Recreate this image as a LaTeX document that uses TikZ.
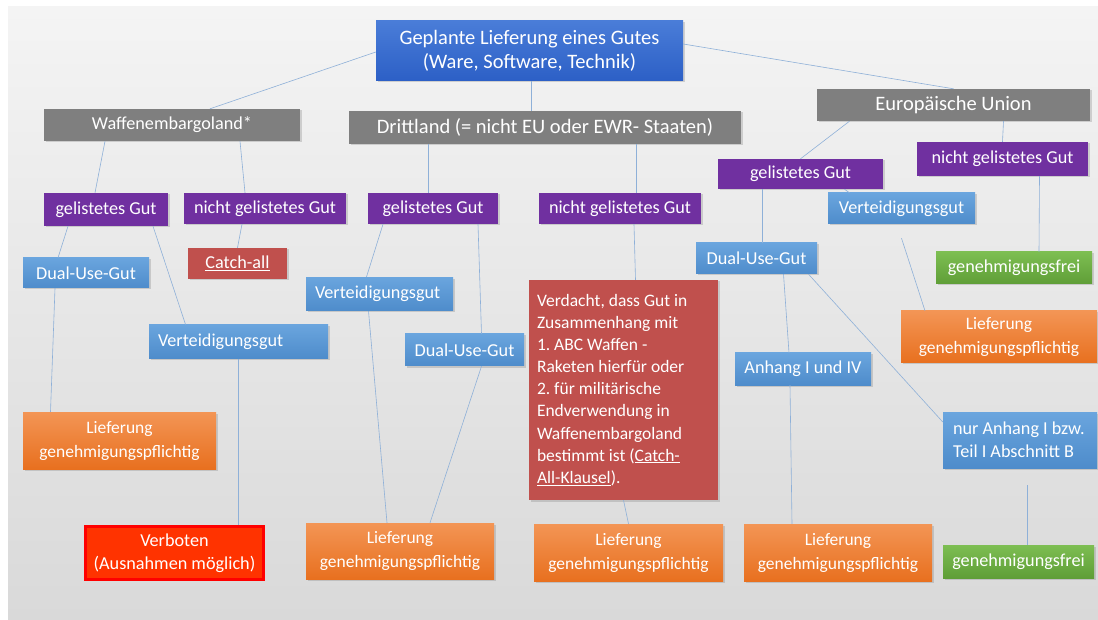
\documentclass[tikz,border=0pt]{standalone}
\usepackage{fontspec}
\setmainfont{Carlito}
\usetikzlibrary{shadows}

\definecolor{bggrey}{HTML}{F4F4F4}
\definecolor{bgdark}{HTML}{D9D9D9}
\definecolor{headtop}{HTML}{4A7DD8}
\definecolor{headbot}{HTML}{2C5FC6}
\definecolor{landgrey}{HTML}{7F7F7F}
\definecolor{gutpurple}{HTML}{7030A0}
\definecolor{arttop}{HTML}{6AA5DE}
\definecolor{artbot}{HTML}{4E8CCB}
\definecolor{liefertop}{HTML}{F39555}
\definecolor{lieferbot}{HTML}{E8701F}
\definecolor{freitop}{HTML}{7DBE52}
\definecolor{freibot}{HTML}{5F9E37}
\definecolor{catchred}{HTML}{C0504D}
\definecolor{verbotred}{HTML}{FF3300}
\definecolor{linkblue}{HTML}{8EB0D8}

\begin{document}
\frenchspacing
\begin{tikzpicture}[x=1pt,y=-1pt,
    box/.style={rectangle, inner sep=4pt, text=white,
      font=\fontsize{18.2}{23}\selectfont,
      drop shadow={shadow xshift=1.5pt, shadow yshift=-1.5pt, opacity=0.3}},
    bigfont/.style={font=\fontsize{20.5}{24}\selectfont},
    headbox/.style={box, bigfont, top color=headtop, bottom color=headbot},
    landbox/.style={box, fill=landgrey},
    gutbox/.style={box, fill=gutpurple},
    artbox/.style={box, top color=arttop, bottom color=artbot},
    lieferbox/.style={box, top color=liefertop, bottom color=lieferbot, align=center,
      font=\fontsize{17.5}{24}\selectfont},
    freibox/.style={box, top color=freitop, bottom color=freibot},
    catchbox/.style={box, fill=catchred},
    verbotbox/.style={box, fill=verbotred, draw=red, line width=3pt, align=center},
    link/.style={draw=linkblue, line width=0.6pt}]

  % Hintergrund
  \useasboundingbox (0,0) rectangle (1098,620);
  \fill[white] (0,0) rectangle (1098,620);
  \shade[top color=bggrey, middle color=bggrey!90!bgdark, bottom color=bgdark] (8,7) rectangle (1098,620);

  % Wurzel und Laender
  \node[headbox, minimum width=307pt, minimum height=60pt, align=center] (ware) at (529.5,51) {Geplante Lieferung eines Gutes\\(Ware, Software, Technik)};
  \node[landbox, minimum width=256pt, minimum height=32pt] (waffen) at (172,125) {Waffenembargoland*};
  \node[landbox, bigfont, minimum width=392pt, minimum height=33pt] (dritt) at (545,127.5) {Drittland (= nicht EU oder EWR- Staaten)};
  \node[landbox, bigfont, minimum width=273pt, minimum height=32pt] (eu) at (953.5,105) {Europäische Union};

  % Waffenembargoland
  \node[gutbox, minimum width=124pt, minimum height=33pt] (gelL) at (106,209.5) {gelistetes Gut};
  \node[gutbox, minimum width=162pt, minimum height=31pt] (ngL) at (265,208.5) {nicht gelistetes Gut};
  \node[catchbox, minimum width=99pt, minimum height=31pt] (catch) at (237.5,263.5) {\underline{Catch-all}};
  \node[artbox, minimum width=126pt, minimum height=30pt] (dualL) at (86,273) {Dual-Use-Gut};
  \node[artbox, minimum width=179pt, minimum height=31pt, inner sep=9pt, text width=161pt, align=flush left] (vertL) at (238.5,341.5) {Verteidigungsgut};
  \node[lieferbox, minimum width=193pt, minimum height=57pt] (liefL) at (119.5,440.5) {Lieferung\\genehmigungspflichtig};
  \node[verbotbox, minimum width=178pt, minimum height=53pt] (verboten) at (174.5,553) {Verboten\\(Ausnahmen möglich)};

  % Drittland
  \node[gutbox, minimum width=130pt, minimum height=31pt] (gelM) at (433,208.5) {gelistetes Gut};
  \node[gutbox, minimum width=162pt, minimum height=31pt] (ngM) at (620,208.5) {nicht gelistetes Gut};
  \node[artbox, minimum width=147pt, minimum height=30pt, inner sep=9pt, text width=129pt, align=flush left] (vertM) at (379.5,294) {Verteidigungsgut};
  \node[artbox, minimum width=119pt, minimum height=32pt] (dualM) at (464.5,350) {Dual-Use-Gut};
  \node[catchbox, minimum width=189pt, minimum height=220pt, inner sep=8pt, text width=173pt, align=flush left, font=\fontsize{17.5}{22.1}\selectfont] (verdacht) at (623.5,390) {Verdacht, dass Gut in\\Zusammenhang mit\\1. ABC Waffen -\\Raketen hierfür oder\\2. für militärische\\Endverwendung in\\Waffenembargoland\\bestimmt ist (\underline{Catch-}\\\underline{All-Klausel}).};
  \node[lieferbox, minimum width=188pt, minimum height=56pt] (liefM) at (400,551) {Lieferung\\genehmigungspflichtig};
  \node[lieferbox, minimum width=189pt, minimum height=57pt] (lief3) at (628.5,552.5) {Lieferung\\genehmigungspflichtig};

  % Europaeische Union
  \node[gutbox, minimum width=165pt, minimum height=30pt] (gelR) at (800.5,174) {gelistetes Gut};
  \node[gutbox, minimum width=171pt, minimum height=34pt] (ngR) at (1002.5,159) {nicht gelistetes Gut};
  \node[artbox, minimum width=147pt, minimum height=31pt] (vertR) at (901.5,208.5) {Verteidigungsgut};
  \node[artbox, minimum width=121pt, minimum height=31pt] (dualR) at (756.5,258.5) {Dual-Use-Gut};
  \node[freibox, minimum width=156pt, minimum height=32pt] (freiR) at (1014,268) {genehmigungsfrei};
  \node[lieferbox, minimum width=196pt, minimum height=52pt] (liefR) at (999,337) {Lieferung\\genehmigungspflichtig};
  \node[artbox, minimum width=136pt, minimum height=32pt] (anhang) at (803,369) {Anhang I und IV};
  \node[artbox, minimum width=154pt, minimum height=56pt, inner sep=10pt, text width=134pt, align=flush left] (nurAnhang) at (1020,440) {nur Anhang I bzw.\\Teil I Abschnitt B};
  \node[lieferbox, minimum width=188pt, minimum height=57pt] (lief4) at (838,552.5) {Lieferung\\genehmigungspflichtig};
  \node[freibox, minimum width=151pt, minimum height=33pt] (freiB) at (1018.5,561.5) {genehmigungsfrei};

  % Verbindungen
  \draw[link] ([yshift=-1pt]ware.west) -- ([xshift=38pt]waffen.north);
  \draw[link] ([xshift=1.5pt]ware.south) -- ([xshift=-14pt]dritt.north);
  \draw[link] ([yshift=7pt]ware.east) -- (eu.north);

  \draw[link] ([xshift=-67pt]waffen.south) -- ([xshift=-11pt]gelL.north);
  \draw[link] ([xshift=68pt]waffen.south) -- ([xshift=-20pt]ngL.north);
  \draw[link] ([xshift=-38pt]gelL.south) -- ([xshift=-28pt]dualL.north);
  \draw[link] ([xshift=47pt]gelL.south) -- ([xshift=-53pt]vertL.north);
  \draw[link] ([xshift=-23pt]ngL.south) -- (catch.north);
  \draw[link] ([xshift=-31pt]dualL.south) -- ([xshift=-69pt]liefL.north);
  \draw[link] (vertL.south) -- ([xshift=64pt]verboten.north);

  \draw[link] ([xshift=-117pt]dritt.south) -- ([xshift=-5pt]gelM.north);
  \draw[link] ([xshift=91pt]dritt.south) -- ([xshift=16pt]ngM.north);
  \draw[link] ([xshift=-50pt]gelM.south) -- ([xshift=-13pt]vertM.north);
  \draw[link] ([xshift=45pt]gelM.south) -- ([xshift=17pt]dualM.north);
  \draw[link] ([xshift=14pt]ngM.south) -- ([xshift=12pt]verdacht.north);
  \draw[link] ([xshift=-11pt]vertM.south) -- ([xshift=-13pt]liefM.north);
  \draw[link] ([xshift=17pt]dualM.south) -- ([xshift=30pt]liefM.north);
  \draw[link] (verdacht.south) -- (lief3.north);

  \draw[link] ([xshift=-104pt]eu.south) -- (gelR.north);
  \draw[link] ([xshift=50pt]eu.south) -- (ngR.north);
  \draw[link] ([xshift=-38pt]gelR.south) -- ([xshift=6pt]dualR.north);
  \draw[link] ([xshift=44pt]gelR.south) -- ([xshift=-52pt]vertR.north);
  \draw[link] ([yshift=-14pt]vertR.south) -- ([xshift=-74pt]liefR.north);
  \draw[link] ([xshift=37pt]ngR.south) -- ([xshift=25pt]freiR.north);
  \draw[link] ([xshift=27pt]dualR.south) -- ([xshift=-14pt]anhang.north);
  \draw[link] ([xshift=52pt]dualR.south) -- ([yshift=18pt]nurAnhang.west);
  \draw[link] ([xshift=-13pt]anhang.south) -- ([xshift=-46pt]lief4.north);
  \draw[link] ([xshift=7pt,yshift=-17pt]nurAnhang.south) -- ([xshift=8.5pt]freiB.north);
\end{tikzpicture}
\end{document}
